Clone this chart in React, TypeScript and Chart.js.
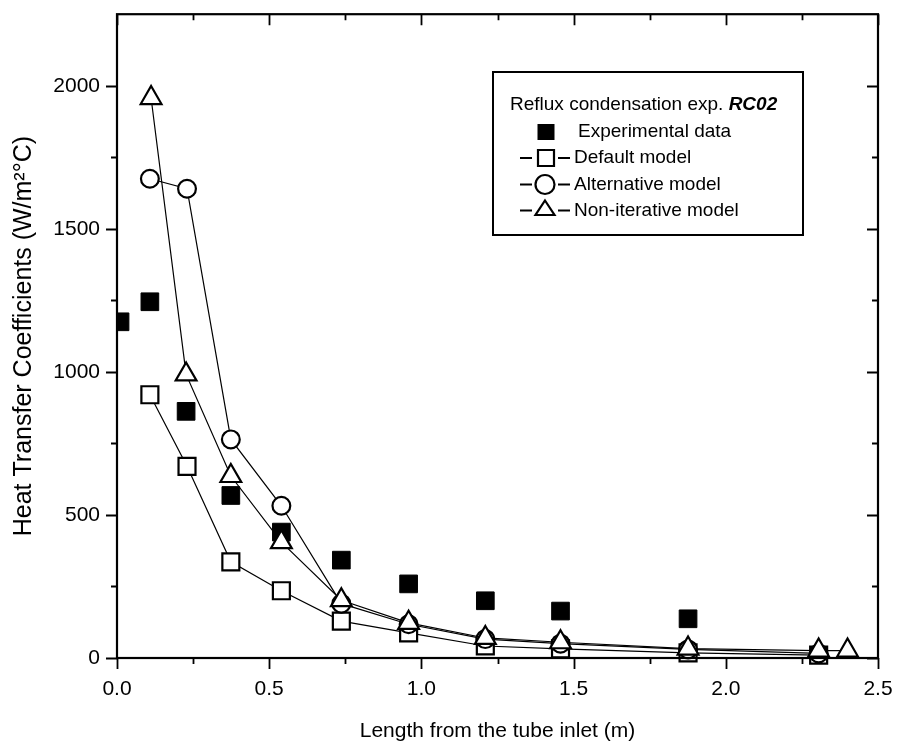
import React, { useEffect, useRef } from 'react';
import { Chart, registerables } from 'chart.js';

Chart.register(...registerables);

// ---- Data ----
const expX = [0.01, 0.108, 0.227, 0.374, 0.54, 0.737, 0.958, 1.21, 1.457, 1.876];
const expY = [1175, 1245, 862, 568, 440, 342, 259, 200, 164, 137];

const modelX = [0.108, 0.23, 0.374, 0.54, 0.737, 0.958, 1.21, 1.457, 1.876, 2.305];
const defaultY = [920, 670, 336, 235, 129, 88, 42, 32, 18, 10];
const alternativeY = [1675, 1640, 764, 532, 190, 118, 66, 50, 30, 16];
const nonIterX = [0.112, 0.227, 0.374, 0.54, 0.737, 0.958, 1.21, 1.457, 1.876, 2.305, 2.4];
const nonIterY = [1957, 991, 636, 405, 202, 123, 70, 55, 33, 26, 26];

const xTicks = [0, 0.5, 1.0, 1.5, 2.0, 2.5];
const xMinorTicks = [0.25, 0.75, 1.25, 1.75, 2.25];
const yTicks = [0, 500, 1000, 1500, 2000];
const yMinorTicks = [250, 750, 1250, 1750];

const legendTitle = 'Reflux condensation exp. ';
const legendTitleBold = 'RC02';
const legendLabels = ['Experimental data', 'Default model', 'Alternative model', 'Non-iterative model'];

const FONT = '"Liberation Sans", Arial, Helvetica, sans-serif';

const pts = (xs: number[], ys: number[]) => xs.map((x, i) => ({ x, y: ys[i] }));

const framePlugin = {
  id: 'frameTicks',
  afterDraw(chart: any) {
    const { ctx, chartArea } = chart;
    const { left, right, top, bottom } = chartArea;
    const xs = chart.scales.x;
    const ys = chart.scales.y;
    ctx.save();
    ctx.strokeStyle = '#000';
    ctx.lineWidth = 2.2;
    ctx.strokeRect(left, top, right - left, bottom - top);
    ctx.lineWidth = 1.8;
    const major = 11;
    const minor = 6;
    ctx.beginPath();
    const vx = (vals: number[], len: number) => {
      vals.forEach((v) => {
        const p = Math.round(xs.getPixelForValue(v)) + 0.5;
        ctx.moveTo(p, bottom);
        ctx.lineTo(p, bottom + len);
        ctx.moveTo(p, top);
        ctx.lineTo(p, top + len);
      });
    };
    const vy = (vals: number[], len: number) => {
      vals.forEach((v) => {
        const p = Math.round(ys.getPixelForValue(v)) + 0.5;
        ctx.moveTo(left, p);
        ctx.lineTo(left - len, p);
        ctx.moveTo(right, p);
        ctx.lineTo(right - len, p);
      });
    };
    vx(xTicks, major);
    vx(xMinorTicks, minor);
    vy(yTicks, major);
    vy(yMinorTicks, minor);
    ctx.stroke();
    ctx.restore();
  },
};

const legendPlugin = {
  id: 'boxLegend',
  afterDraw(chart: any) {
    const ctx = chart.ctx;
    ctx.save();
    ctx.strokeStyle = '#000';
    ctx.lineWidth = 2;
    const bx = 493, by = 72, bw = 310, bh = 163;
    ctx.fillStyle = '#fff';
    ctx.fillRect(bx, by, bw, bh);
    ctx.strokeRect(bx, by, bw, bh);
    ctx.fillStyle = '#000';
    ctx.textBaseline = 'middle';
    ctx.textAlign = 'left';
    ctx.font = `19px ${FONT}`;
    const tx = 510;
    ctx.fillText(legendTitle, tx, 105);
    const w = ctx.measureText(legendTitle).width;
    ctx.font = `italic bold 19px ${FONT}`;
    ctx.fillText(legendTitleBold, tx + w, 105);
    ctx.font = `19px ${FONT}`;
    const rows = [132, 158, 184.5, 210.5];
    const sx = 546;
    rows.forEach((ry, i) => {
      ctx.lineWidth = 2;
      if (i > 0) {
        ctx.beginPath();
        ctx.moveTo(520, ry);
        ctx.lineTo(532, ry);
        ctx.moveTo(558, ry);
        ctx.lineTo(570, ry);
        ctx.stroke();
      }
      ctx.lineWidth = 2.2;
      ctx.beginPath();
      if (i === 0) {
        ctx.fillStyle = '#000';
        ctx.fillRect(sx - 8.5, ry - 8, 17, 16);
      } else if (i === 1) {
        ctx.fillStyle = '#fff';
        ctx.rect(sx - 8, ry - 8, 16, 16);
        ctx.fill();
        ctx.stroke();
      } else if (i === 2) {
        ctx.fillStyle = '#fff';
        ctx.arc(sx - 1, ry, 9.5, 0, Math.PI * 2);
        ctx.fill();
        ctx.stroke();
      } else {
        ctx.fillStyle = '#fff';
        ctx.moveTo(sx - 1, ry - 10);
        ctx.lineTo(sx + 8.5, ry + 4.5);
        ctx.lineTo(sx - 10.5, ry + 4.5);
        ctx.closePath();
        ctx.fill();
        ctx.stroke();
      }
      ctx.fillStyle = '#000';
      ctx.fillText(legendLabels[i], i === 0 ? 578 : 574, ry);
    });
    ctx.restore();
  },
};

export default function App() {
  const ref = useRef<HTMLCanvasElement | null>(null);
  useEffect(() => {
    document.body.style.margin = '0';
    const canvas = ref.current;
    if (!canvas) return;
    const common = {
      borderColor: '#000',
      pointBorderColor: '#000',
      pointBackgroundColor: '#fff',
      pointBorderWidth: 2.2,
      borderWidth: 1.2,
      showLine: true,
      clip: false as any,
      tension: 0,
    };
    const chart = new Chart(canvas, {
      type: 'line',
      data: {
        datasets: [
          {
            ...common,
            label: legendLabels[0],
            data: pts(expX, expY),
            showLine: false,
            pointStyle: 'rect',
            pointRadius: 12.5,
            pointBackgroundColor: '#000',
            pointBorderWidth: 1,
            clip: { left: 0, top: false, right: false, bottom: false } as any,
            order: 4,
          },
          {
            ...common,
            label: legendLabels[1],
            data: pts(modelX, defaultY),
            pointStyle: 'rect',
            pointRadius: 12,
            order: 3,
          },
          {
            ...common,
            label: legendLabels[2],
            data: pts(modelX, alternativeY),
            pointStyle: 'circle',
            pointRadius: 8.9,
            order: 2,
          },
          {
            ...common,
            label: legendLabels[3],
            data: pts(nonIterX, nonIterY),
            pointStyle: 'triangle',
            pointRadius: 12,
            order: 1,
          },
        ],
      },
      options: {
        animation: false,
        responsive: false,
        maintainAspectRatio: false,
        layout: { padding: { left: 0, right: 21, top: 8, bottom: 0 } },
        plugins: {
          legend: { display: false },
          tooltip: { enabled: false },
        },
        scales: {
          x: {
            type: 'linear',
            min: 0,
            max: 2.5,
            grid: { display: false, drawTicks: false },
            border: { display: false },
            afterBuildTicks: (s: any) => {
              s.ticks = xTicks.map((v) => ({ value: v }));
            },
            afterFit: (s: any) => {
              s.height = 95;
              s.paddingLeft = 0;
              s.paddingRight = 0;
            },
            ticks: {
              padding: 19,
              color: '#000',
              font: { family: FONT, size: 21 },
              maxRotation: 0,
              callback: (v: any) => Number(v).toFixed(1),
            },
            title: {
              display: true,
              text: 'Length from the tube inlet (m)',
              color: '#000',
              font: { family: FONT, size: 21 },
              padding: { top: 9, bottom: 9 },
            },
          },
          y: {
            type: 'linear',
            min: 0,
            max: 2250,
            grid: { display: false, drawTicks: false },
            border: { display: false },
            afterBuildTicks: (s: any) => {
              s.ticks = yTicks.map((v) => ({ value: v }));
            },
            afterFit: (s: any) => {
              s.width = 117;
              s.paddingTop = 0;
              s.paddingBottom = 0;
            },
            ticks: {
              padding: 17,
              color: '#000',
              font: { family: FONT, size: 21 },
              callback: (v: any) => String(v),
            },
            title: {
              display: true,
              text: 'Heat Transfer Coefficients (W/m²°C)',
              color: '#000',
              font: { family: FONT, size: 25 },
              padding: { top: 9, bottom: 9 },
            },
          },
        },
      },
      plugins: [framePlugin, legendPlugin],
    });
    return () => chart.destroy();
  }, []);
  return <canvas ref={ref} width={899} height={753} style={{ display: 'block' }} />;
}
